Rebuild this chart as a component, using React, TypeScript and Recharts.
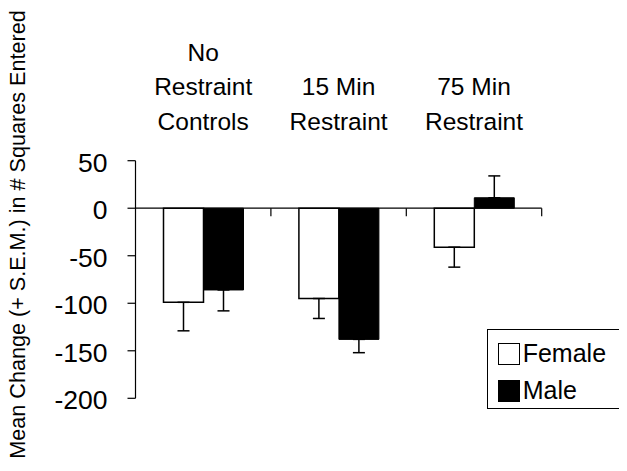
import { BarChart, Bar, XAxis, YAxis, ErrorBar, ReferenceLine, Legend, Label } from 'recharts';

// groups shown above the plot, one line per entry
const categoryLines = [
  ['No', 'Restraint', 'Controls'],
  ['15 Min', 'Restraint'],
  ['75 Min', 'Restraint'],
];
const femaleMeans = [-99, -95, -41];
const femaleSem = [30, 21, 21];
const maleMeans = [-86, -138, 11];
const maleSem = [22, 14, 23];
const yTicks = [-200, -150, -100, -50, 0, 50];
const seriesNames = ['Female', 'Male'];

const FONT = '"Liberation Sans", Arial, Helvetica, sans-serif';

// error only drawn away from zero
const oneSided = (v: number, s: number) => (v < 0 ? [s, 0] : [0, s]);

const data = categoryLines.map((lines, i) => ({
  group: lines.join(' '),
  female: femaleMeans[i],
  male: maleMeans[i],
  femaleErr: oneSided(femaleMeans[i], femaleSem[i]),
  maleErr: oneSided(maleMeans[i], maleSem[i]),
}));

const CategoryTick = (props: any) => {
  const { x, y, index } = props;
  const lines = categoryLines[index] || [];
  const n = lines.length;
  return (
    <g>
      {lines.map((t, k) => (
        <text
          key={k}
          x={x}
          y={y - 31 - (n - 1 - k) * 34.5}
          textAnchor="middle"
          fontFamily={FONT}
          fontSize={24.5}
          fill="#000"
        >
          {t}
        </text>
      ))}
    </g>
  );
};

const ValueTick = (props: any) => {
  const { x, y, payload } = props;
  return (
    <text x={x} y={y + 11} textAnchor="end" fontFamily={FONT} fontSize={26.5} fill="#000">
      {payload.value}
    </text>
  );
};

const AxisTitle = (props: any) => {
  const vb = props.viewBox || { x: 0, y: 0, height: 0 };
  const x = vb.x + 17;
  const y = vb.y + vb.height / 2 - 45;
  return (
    <text
      x={x}
      y={y}
      transform={`rotate(-90, ${x}, ${y})`}
      textAnchor="middle"
      fontFamily={FONT}
      fontSize={21.6}
      fill="#000"
    >
      Mean Change (+ S.E.M.) in # Squares Entered
    </text>
  );
};

// tick marks between categories along the zero line
const ZeroTicks = (props: any) => {
  const vb = props.viewBox || { x: 0, y: 0, width: 0 };
  const n = categoryLines.length;
  return (
    <g>
      {categoryLines.map((_, k) => {
        const tx = vb.x + (vb.width * (k + 1)) / n;
        return <line key={k} x1={tx} y1={vb.y} x2={tx} y2={vb.y + 8} stroke="#000" strokeWidth={1.2} />;
      })}
    </g>
  );
};

const LegendBox = () => (
  <div
    style={{
      border: '1px solid #000',
      width: 133,
      height: 80,
      boxSizing: 'border-box',
      padding: '5px 0 0 10px',
      fontFamily: FONT,
      fontSize: 25,
      lineHeight: 1,
      color: '#000',
      background: '#fff',
    }}
  >
    {seriesNames.map((name, i) => (
      <div key={name} style={{ display: 'flex', alignItems: 'center', height: 37 }}>
        <span
          style={{
            display: 'inline-block',
            width: 22,
            height: 22,
            boxSizing: 'border-box',
            border: '1px solid #000',
            background: i === 0 ? '#fff' : '#000',
            marginRight: 3,
          }}
        />
        <span>{name}</span>
      </div>
    ))}
  </div>
);

export default function App() {
  return (
    <BarChart
      width={611}
      height={455}
      data={data}
      margin={{ top: 0, right: 77.3, bottom: 64.7, left: 0 }}
      barSize={40}
      barGap={0}
    >
      <XAxis
        dataKey="group"
        orientation="top"
        height={152.7}
        axisLine={false}
        tickLine={false}
        tickSize={0}
        tickMargin={0}
        interval={0}
        tick={<CategoryTick />}
      />
      <YAxis
        width={127.5}
        domain={[-200, 50]}
        ticks={yTicks}
        interval={0}
        tickSize={8}
        tickMargin={20}
        axisLine={{ stroke: '#000', strokeWidth: 1.2 }}
        tickLine={{ stroke: '#000', strokeWidth: 1.2 }}
        tick={<ValueTick />}
      >
        <Label content={<AxisTitle />} />
      </YAxis>
      <Bar dataKey="female" name="Female" fill="#fff" stroke="#000" strokeWidth={1.5} isAnimationActive={false}>
        <ErrorBar dataKey="femaleErr" direction="y" width={6} stroke="#000" strokeWidth={1.5} />
      </Bar>
      <Bar dataKey="male" name="Male" fill="#000" stroke="#000" strokeWidth={1} isAnimationActive={false}>
        <ErrorBar dataKey="maleErr" direction="y" width={6} stroke="#000" strokeWidth={1.5} />
      </Bar>
      <ReferenceLine y={0} stroke="#000" strokeWidth={1.2} label={<ZeroTicks />} />
      <Legend
        layout="horizontal"
        align="center"
        verticalAlign="middle"
        content={<LegendBox />}
        wrapperStyle={{ position: 'absolute', left: 478.7, top: 321, width: 133 }}
      />
    </BarChart>
  );
}
